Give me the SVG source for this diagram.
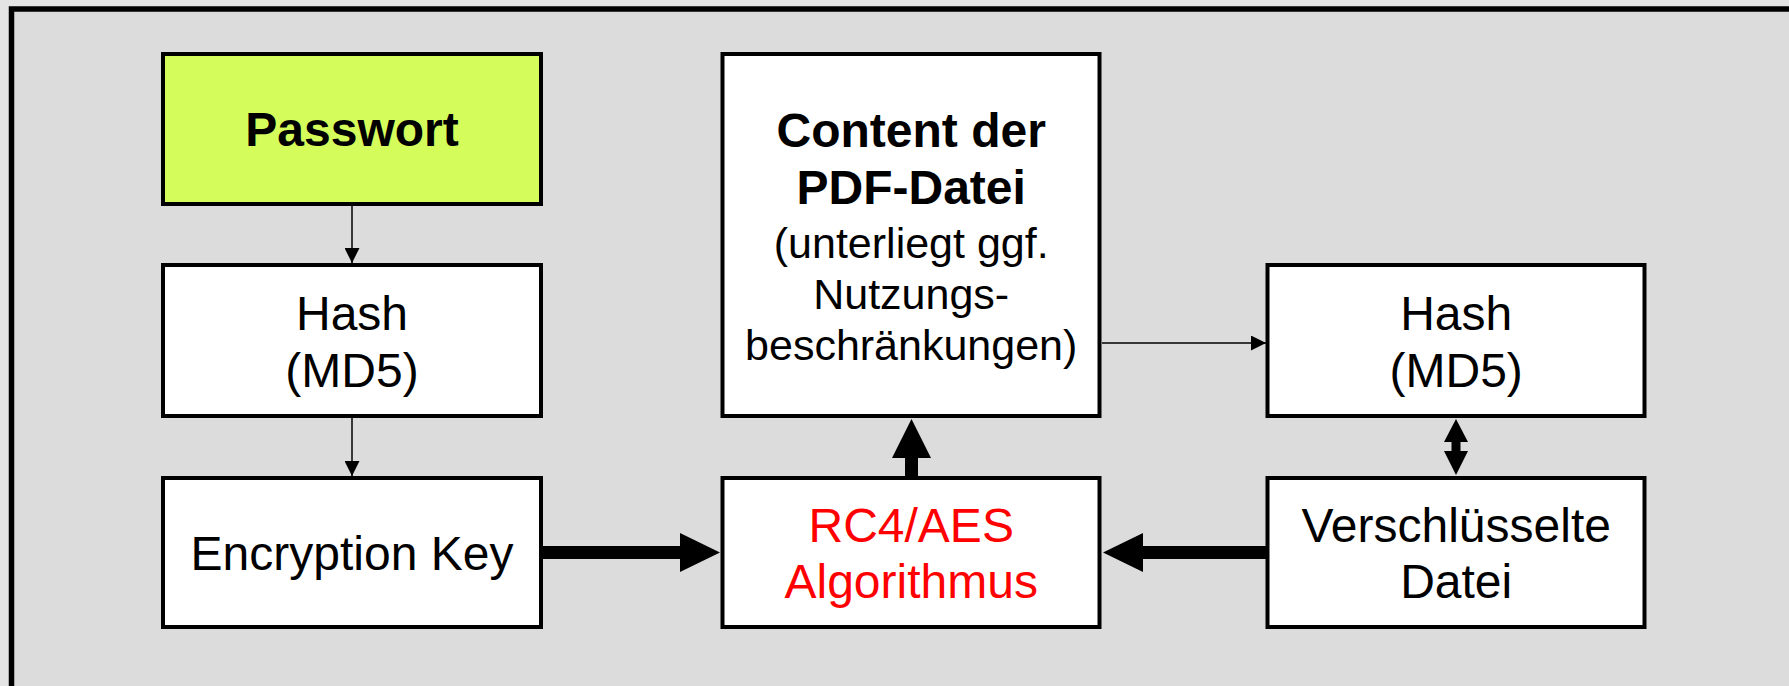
<svg xmlns="http://www.w3.org/2000/svg" width="1789" height="686" viewBox="0 0 1789 686">
  <style>
    .box { fill: #ffffff; stroke: #000000; stroke-width: 4; }
    .pw { fill: #d4fd5b; }
    .t { font-family: "Liberation Sans", Arial, Helvetica, sans-serif; font-size: 48px; fill: #000000; text-anchor: middle; }
    .b { font-weight: bold; }
    .s { font-size: 43px; }
    .red { fill: #ff0000; }
    .thin { fill: none; stroke: #000000; stroke-width: 1.5; marker-end: url(#head); }
    .block { fill: #000000; stroke: none; }
  </style>
  <defs>
    <marker id="head" markerUnits="userSpaceOnUse" markerWidth="15" markerHeight="15" viewBox="0 0 15 15" refX="15" refY="7.5" orient="auto">
      <path d="M0,0 L15,7.5 L0,15 Z" fill="#000000"/>
    </marker>
  </defs>

  <!-- page and frame -->
  <rect x="0" y="0" width="1789" height="686" fill="#e4e4e4"/>
  <rect x="11.5" y="9" width="1800" height="700" fill="#dcdcdc" stroke="#000000" stroke-width="5.5"/>

  <!-- connectors -->
  <g id="connectors">
    <path class="thin" d="M352,206 V263"/>
    <path class="thin" d="M352,418 V476"/>
    <path class="thin" d="M1102,343 H1266"/>
    <path class="block" d="M543,546 H680 V533 L720,552.5 L680,572 V559 H543 Z"/>
    <path class="block" d="M1266,546 H1143 V533 L1103,552.5 L1143,572 V559 H1266 Z"/>
    <path class="block" d="M905,476 V458 H892 L911.5,419 L931,458 H918 V476 Z"/>
    <path class="block" d="M1456,419 L1468,442 H1460.5 V451 H1468 L1456,475 L1444,451 H1451.5 V442 H1444 Z"/>
  </g>

  <!-- nodes -->
  <g id="passwort">
    <rect class="box pw" x="163" y="54" width="378" height="150"/>
    <text class="t b" x="352" y="146">Passwort</text>
  </g>
  <g id="hash-left">
    <rect class="box" x="163" y="265" width="378" height="151"/>
    <text class="t" x="352" y="330">Hash</text>
    <text class="t" x="352" y="386.5">(MD5)</text>
  </g>
  <g id="encryption-key">
    <rect class="box" x="163" y="478" width="378" height="149"/>
    <text class="t" x="352" y="570">Encryption Key</text>
  </g>
  <g id="content">
    <rect class="box" x="722.5" y="54" width="377" height="362"/>
    <text class="t b" x="911.2" y="147">Content der</text>
    <text class="t b" x="911.2" y="204">PDF-Datei</text>
    <text class="t s" x="911.2" y="258">(unterliegt ggf.</text>
    <text class="t s" x="911.2" y="309">Nutzungs-</text>
    <text class="t s" x="911.2" y="360">beschränkungen)</text>
  </g>
  <g id="algorithmus">
    <rect class="box" x="722.5" y="478" width="377" height="149"/>
    <text class="t red" x="911.2" y="541.5">RC4/AES</text>
    <text class="t red" x="911.2" y="597.5">Algorithmus</text>
  </g>
  <g id="hash-right">
    <rect class="box" x="1267.5" y="265" width="377" height="151"/>
    <text class="t" x="1456.2" y="330">Hash</text>
    <text class="t" x="1456.2" y="386.5">(MD5)</text>
  </g>
  <g id="verschluesselte-datei">
    <rect class="box" x="1267.5" y="478" width="377" height="149"/>
    <text class="t" x="1456.2" y="541.5">Verschlüsselte</text>
    <text class="t" x="1456.2" y="597.5">Datei</text>
  </g>
</svg>
